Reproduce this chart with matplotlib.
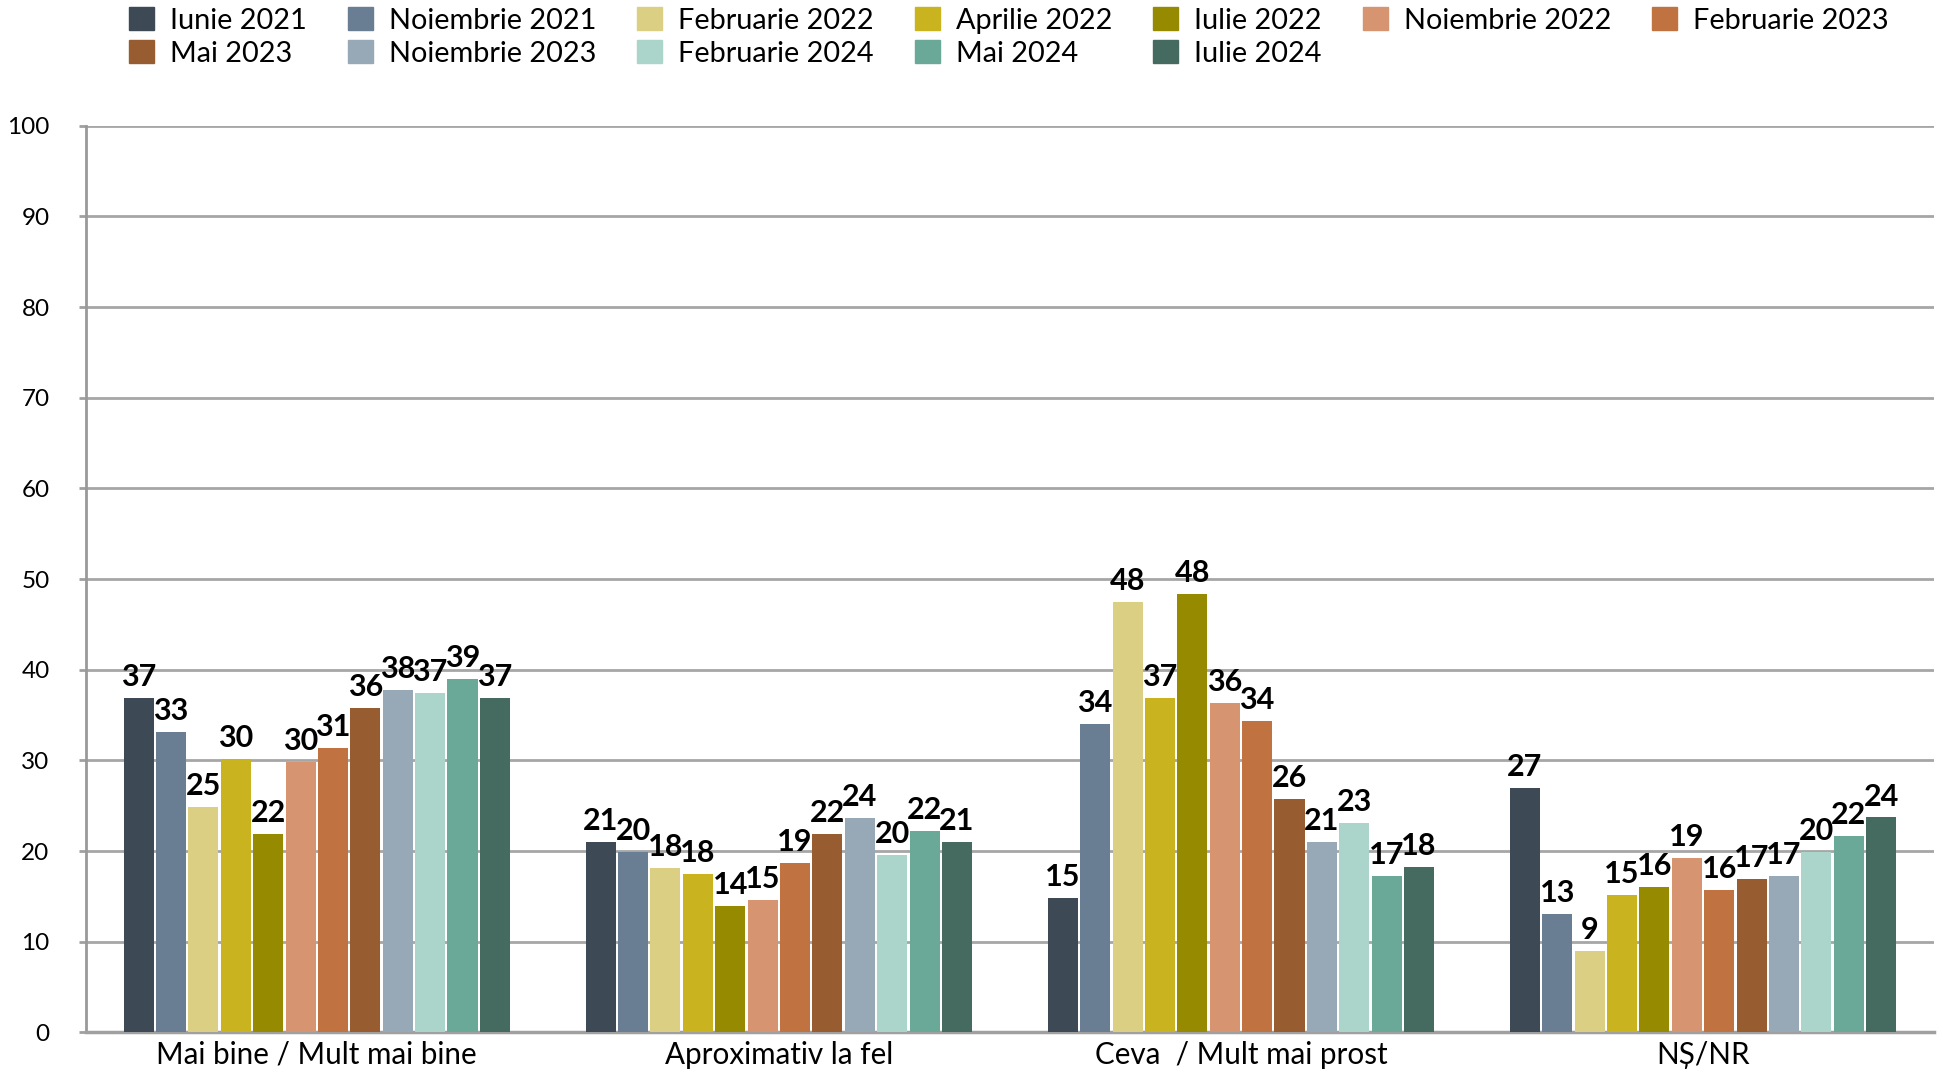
import numpy as np
import matplotlib.pyplot as plt
from matplotlib.patches import Patch

plt.rcParams['font.family'] = ['Lato', 'DejaVu Sans']

categories = ["Mai bine / Mult mai bine", "Aproximativ la fel", "Ceva  / Mult mai prost", "NȘ/NR"]
waves = ["Iunie 2021", "Noiembrie 2021", "Februarie 2022", "Aprilie 2022", "Iulie 2022",
         "Noiembrie 2022", "Februarie 2023", "Mai 2023", "Noiembrie 2023", "Februarie 2024",
         "Mai 2024", "Iulie 2024"]
colors = ["#3d4a56", "#6a7e93", "#dbcf83", "#c9b41f", "#958a00", "#d69470",
          "#c07340", "#985c31", "#97a9b6", "#abd5ca", "#6aa898", "#456a60"]

# one row per wave, one column per category
values = [
    [36.9, 21.0, 14.8, 27.0],
    [33.1, 19.9, 34.0, 13.1],
    [24.85, 18.1, 47.5, 9.0],
    [30.15, 17.5, 36.9, 15.2],
    [21.9, 13.9, 48.4, 16.0],
    [29.8, 14.6, 36.3, 19.2],
    [31.4, 18.7, 34.3, 15.7],
    [35.8, 21.9, 25.7, 16.9],
    [37.8, 23.6, 21.0, 17.2],
    [37.4, 19.6, 23.1, 19.9],
    [39.0, 22.2, 17.2, 21.7],
    [36.9, 21.0, 18.2, 23.7],
]

fig = plt.figure(figsize=(19.43, 10.76), dpi=100)
ax = fig.add_axes([0.0441, 0.0406, 0.9513, 0.8425])

x = np.arange(len(categories))
step = 0.0701
width = 0.065
n = len(waves)
for i, (name, col, vals) in enumerate(zip(waves, colors, values)):
    pos = x + (i - (n - 1) / 2) * step
    bars = ax.bar(pos, vals, width=width, color=col, label=name, zorder=3)
    for b, v in zip(bars, vals):
        ax.annotate(str(int(round(v))), (b.get_x() + b.get_width() / 2, v),
                    xytext=(0, 5), textcoords='offset points', ha='center', va='bottom',
                    fontsize=22, fontweight='bold', color='black', zorder=4)

ax.set_xlim(-0.5, len(categories) - 0.5)
ax.set_ylim(0, 100)
ax.set_yticks(range(0, 101, 10))
ax.set_xticks(x)
ax.set_xticklabels(categories, fontsize=21.3)
ax.tick_params(axis='x', length=0, pad=6)
ax.tick_params(axis='y', length=5, width=2, color='#a0a0a0', labelsize=17.5, pad=21)
ax.yaxis.grid(True, color='#a6a6a6', linewidth=2, zorder=0)
ax.set_axisbelow(True)
for s in ['top', 'right']:
    ax.spines[s].set_visible(False)
ax.spines['left'].set_color('#999999')
ax.spines['left'].set_linewidth(2)
ax.spines['bottom'].set_color('#a0a0a0')
ax.spines['bottom'].set_linewidth(2.5)

handles = [Patch(color=c) for c in colors]
order = [0, 7, 1, 8, 2, 9, 3, 10, 4, 11, 5, 6]
fig.legend([handles[k] for k in order], [waves[k] for k in order],
           loc='upper left', bbox_to_anchor=(129 / 1943, 1 - 7 / 1076),
           ncol=7, frameon=False, fontsize=20.8, borderpad=0, borderaxespad=0,
           handlelength=0.87, handleheight=0.87, handletextpad=0.55,
           columnspacing=1.42, labelspacing=0.22)

fig.savefig("out.png", dpi=100)
